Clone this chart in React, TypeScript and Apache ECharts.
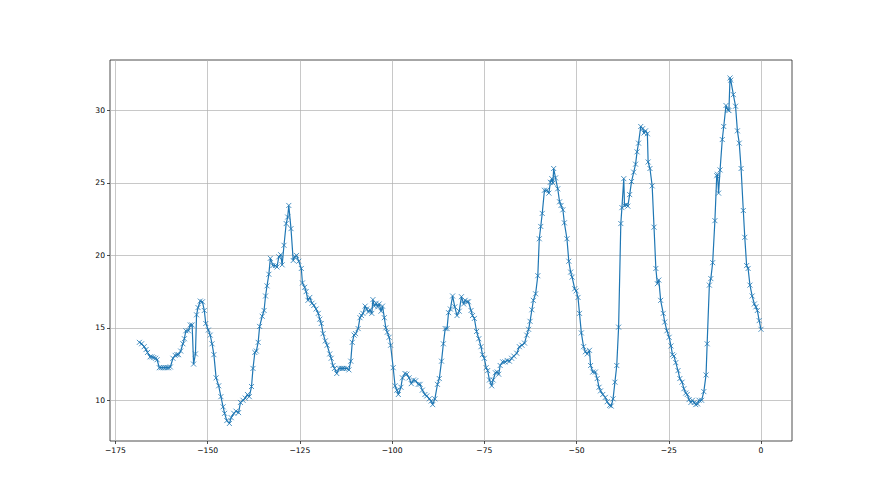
import React, { useEffect, useRef } from "react";
import * as echarts from "echarts";

const hours: number[] = [
  -168.5, -167.9, -167.2, -166.7, -166.3, -165.6, -165.1, -164.6, -164.1, -163.7,
  -163.1, -162.6, -162.0, -161.5, -161.0, -160.6, -160.1, -159.4, -158.8, -158.3,
  -157.9, -157.3, -156.7, -156.3, -155.9, -155.2, -154.7, -154.2, -153.8, -153.3,
  -153.0, -152.6, -152.0, -151.4, -150.9, -150.5, -149.8, -149.3, -148.8, -148.3,
  -147.7, -147.0, -146.4, -145.8, -145.4, -144.8, -144.1, -143.6, -142.9, -142.3,
  -141.6, -141.1, -140.4, -139.8, -139.2, -138.7, -138.1, -137.7, -137.2, -136.8,
  -136.3, -135.9, -135.2, -134.7, -134.3, -133.9, -133.4, -133.0, -132.3, -131.6,
  -131.2, -130.7, -130.2, -129.8, -129.3, -128.7, -128.3, -128.0, -127.4, -126.8,
  -126.4, -125.9, -125.3, -124.6, -124.3, -123.7, -123.3, -122.8, -122.3, -121.7,
  -121.2, -120.6, -120.0, -119.6, -119.2, -118.7, -118.1, -117.6, -116.9, -116.5,
  -116.0, -115.6, -115.0, -114.4, -113.8, -113.4, -113.0, -112.3, -111.7, -111.2,
  -110.8, -110.3, -109.9, -109.2, -108.7, -108.3, -107.9, -107.3, -106.9, -106.4,
  -106.0, -105.5, -105.2, -104.8, -104.3, -103.9, -103.5, -103.0, -102.6, -102.1,
  -101.7, -101.3, -100.8, -100.4, -99.7, -99.2, -98.7, -98.3, -97.6, -97.2,
  -96.5, -96.0, -95.4, -94.8, -94.2, -93.6, -92.9, -92.4, -91.8, -91.1,
  -90.6, -89.9, -89.4, -89.0, -88.4, -87.7, -87.2, -86.6, -86.1, -85.6,
  -85.1, -84.7, -84.2, -83.6, -83.0, -82.4, -81.8, -81.2, -80.6, -80.2,
  -79.7, -79.3, -78.6, -78.2, -77.7, -77.1, -76.5, -75.9, -75.5, -75.0,
  -74.5, -74.1, -73.6, -73.0, -72.6, -72.0, -71.5, -71.1, -70.7, -70.0,
  -69.4, -68.8, -68.2, -67.6, -67.0, -66.2, -65.5, -64.8, -64.1, -63.5,
  -63.0, -62.6, -62.1, -61.7, -61.1, -60.5, -60.1, -59.7, -59.3, -58.7,
  -58.1, -57.5, -57.1, -56.7, -56.4, -56.2, -55.7, -55.1, -54.6, -54.2,
  -53.7, -53.3, -52.6, -52.1, -51.6, -51.2, -50.5, -50.1, -49.6, -49.2,
  -48.7, -48.1, -47.6, -47.1, -46.5, -46.2, -45.6, -44.9, -44.4, -43.9,
  -43.5, -42.9, -42.2, -41.7, -41.0, -40.6, -40.1, -39.6, -39.1, -38.6,
  -38.0, -37.7, -37.2, -37.0, -36.5, -36.1, -35.6, -35.1, -34.5, -34.0,
  -33.6, -33.2, -32.6, -32.1, -31.7, -31.3, -30.8, -30.6, -30.1, -29.5,
  -29.0, -28.5, -28.1, -27.7, -27.2, -26.5, -26.1, -25.5, -24.9, -24.4,
  -24.0, -23.6, -23.1, -22.5, -22.0, -21.4, -20.9, -20.4, -20.0, -19.5,
  -19.0, -18.6, -18.1, -17.7, -17.2, -16.8, -16.1, -15.5, -14.9, -14.6,
  -14.0, -13.6, -13.1, -12.5, -12.0, -11.8, -11.5, -11.1, -10.5, -10.1,
  -9.5, -9.0, -8.7, -8.4, -8.2, -7.5, -6.9, -6.4, -5.9, -5.4,
  -4.8, -4.4, -3.9, -3.5, -3.0, -2.4, -1.8, -1.4, -1.0, -0.5,
  0.0,
];

const values: number[] = [
  14.0, 13.9, 13.7, 13.5, 13.3, 13.0, 13.0, 12.95, 12.9, 12.8,
  12.25, 12.25, 12.25, 12.25, 12.25, 12.25, 12.3, 12.9, 13.1, 13.15,
  13.15, 13.4, 13.9, 14.25, 14.8, 14.8, 15.2, 15.2, 12.5, 13.2,
  15.9, 16.4, 16.85, 16.8, 16.2, 15.3, 14.85, 14.5, 13.9, 13.15,
  11.55, 11.0, 10.25, 9.55, 9.1, 8.6, 8.4, 8.8, 9.1, 9.25,
  9.15, 9.85, 10.0, 10.15, 10.4, 10.25, 10.95, 12.2, 13.3, 13.4,
  14.0, 15.1, 15.8, 16.2, 17.2, 17.9, 18.7, 19.8, 19.3, 19.3,
  19.2, 19.9, 20.05, 19.35, 20.7, 22.2, 22.65, 23.45, 21.85, 19.65,
  19.9, 20.0, 19.6, 19.1, 18.1, 17.8, 17.5, 16.9, 17.1, 16.7,
  16.55, 16.3, 16.0, 15.6, 15.3, 14.6, 14.1, 13.8, 13.2, 12.9,
  12.4, 12.2, 11.85, 12.2, 12.2, 12.2, 12.2, 12.2, 12.1, 12.7,
  14.0, 14.5, 14.6, 14.95, 15.7, 15.85, 16.0, 16.5, 16.3, 16.1,
  16.25, 16.0, 16.95, 16.5, 16.7, 16.45, 16.65, 16.15, 16.5, 15.7,
  15.0, 14.7, 14.35, 13.8, 12.25, 11.0, 10.7, 10.4, 10.9, 11.55,
  11.85, 11.8, 11.55, 11.15, 11.4, 11.35, 11.1, 11.1, 10.7, 10.4,
  10.3, 10.1, 9.95, 9.7, 10.1, 11.1, 11.5, 12.7, 13.9, 14.95,
  14.95, 16.05, 16.3, 17.2, 16.45, 15.85, 16.15, 17.15, 16.65, 16.9,
  16.8, 16.8, 16.2, 15.85, 15.65, 14.75, 14.25, 13.7, 13.15, 12.9,
  12.25, 12.05, 11.4, 11.0, 11.4, 11.9, 11.95, 11.8, 12.4, 12.65,
  12.65, 12.75, 12.7, 12.9, 13.05, 13.25, 13.7, 13.8, 13.95, 14.5,
  14.9, 15.45, 16.25, 16.9, 17.35, 18.6, 21.15, 22.0, 22.9, 24.5,
  24.5, 24.3, 25.05, 25.3, 25.0, 26.0, 25.35, 24.6, 23.7, 23.45,
  23.15, 22.25, 21.15, 19.6, 18.85, 18.5, 17.7, 17.55, 17.1, 16.0,
  14.65, 13.7, 13.35, 13.2, 13.45, 12.4, 11.95, 11.95, 11.5, 10.9,
  10.65, 10.4, 10.2, 9.9, 9.65, 9.6, 10.1, 11.25, 12.4, 15.05,
  22.2, 23.3, 25.3, 23.45, 23.5, 23.4, 24.2, 25.1, 25.75, 26.3,
  27.15, 27.75, 28.9, 28.75, 28.45, 28.6, 28.4, 26.45, 26.0, 24.8,
  21.95, 19.1, 18.05, 18.3, 16.9, 16.0, 15.4, 14.8, 14.35, 13.75,
  13.15, 13.05, 12.6, 12.05, 11.5, 11.25, 10.8, 10.5, 10.4, 10.05,
  9.85, 10.0, 9.85, 9.7, 9.75, 10.0, 10.0, 10.6, 11.75, 13.9,
  17.95, 18.4, 19.5, 22.4, 25.5, 25.6, 24.3, 25.9, 28.0, 28.9,
  30.35, 30.05, 30.0, 32.25, 32.1, 31.1, 30.3, 28.6, 27.75, 26.0,
  23.1, 21.25, 19.3, 19.1, 17.95, 17.2, 16.65, 16.45, 16.2, 15.5,
  14.9,
];

const xTicks: number[] = [-175, -150, -125, -100, -75, -50, -25, 0];
const yTicks: number[] = [10, 15, 20, 25, 30];

const fmt = (v: number) => (v < 0 ? "\u2212" + Math.abs(v) : String(v));

export default function App() {
  const ref = useRef<HTMLDivElement>(null);
  useEffect(() => {
    document.body.style.margin = "0";
    if (!ref.current) return;
    const chart = echarts.init(ref.current, null, { renderer: "svg" });
    const data = hours.map((h, i) => [h, values[i]]);
    const font = "DejaVu Sans";
    chart.setOption({
      animation: false,
      backgroundColor: "#ffffff",
      grid: {
        left: 110,
        right: 88,
        top: 60,
        bottom: 54,
        show: true,
        borderColor: "#222",
        borderWidth: 0.8,
        backgroundColor: "transparent",
      },
      xAxis: {
        type: "value",
        min: -176.46,
        max: 8.4,
        axisLine: { show: false, onZero: false },
        axisTick: {
          show: true,
          customValues: xTicks,
          length: 3,
          lineStyle: { color: "#222", width: 0.8 },
        },
        axisLabel: {
          customValues: xTicks,
          formatter: fmt,
          color: "#000",
          fontSize: 7.6,
          fontFamily: font,
          margin: 5,
        },
        splitLine: { show: true, lineStyle: { color: "#b0b0b0", width: 0.7 } },
      },
      yAxis: {
        type: "value",
        min: 7.19,
        max: 33.49,
        axisLine: { show: false, onZero: false },
        axisTick: {
          show: true,
          customValues: yTicks,
          length: 3,
          lineStyle: { color: "#222", width: 0.8 },
        },
        axisLabel: {
          customValues: yTicks,
          formatter: fmt,
          color: "#000",
          fontSize: 7.6,
          fontFamily: font,
          margin: 5,
        },
        splitLine: { show: true, lineStyle: { color: "#b0b0b0", width: 0.7 } },
      },
      series: [
        {
          type: "line",
          data,
          showAllSymbol: true,
          symbol: "path://M0,0L10,10M0,10L10,0",
          symbolSize: 5,
          itemStyle: { color: "#1f77b4", borderColor: "#1f77b4", borderWidth: 0.8 },
          lineStyle: { color: "#1f77b4", width: 1.2 },
          emphasis: { disabled: true },
        },
      ],
    });
    return () => chart.dispose();
  }, []);
  return (
    <div
      ref={ref}
      style={{ position: "fixed", left: 0, top: 0, width: 880, height: 495 }}
    />
  );
}
